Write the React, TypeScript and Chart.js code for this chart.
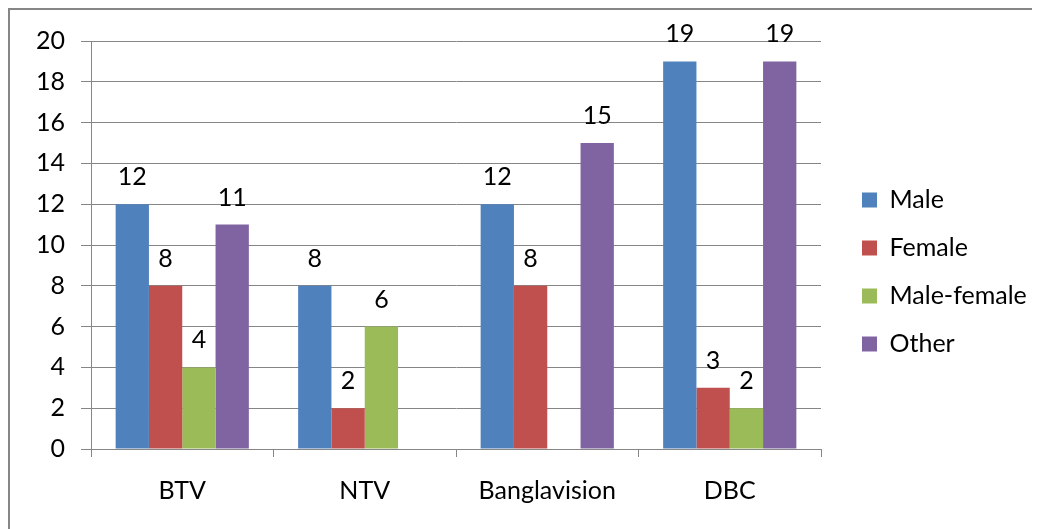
import React, { useEffect, useRef } from "react";
import { Chart, registerables } from "chart.js";

Chart.register(...registerables);

const categories = ["BTV", "NTV", "Banglavision", "DBC"];
const maleValues = [12, 8, 12, 19];
const femaleValues = [8, 2, 8, 3];
const maleFemaleValues = [4, 6, null, 2];
const otherValues = [11, null, 15, 19];
const yTicks = [0, 2, 4, 6, 8, 10, 12, 14, 16, 18, 20];

const FONT = "Lato, 'Open Sans', sans-serif";
const FS = 25;

const dataLabelPlugin = {
  id: "dataLabels",
  afterDatasetsDraw(chart: any) {
    const ctx = chart.ctx;
    ctx.save();
    ctx.font = `${FS}px ${FONT}`;
    ctx.fillStyle = "#000";
    ctx.textAlign = "center";
    ctx.textBaseline = "middle";
    chart.data.datasets.forEach((ds: any, i: number) => {
      const meta = chart.getDatasetMeta(i);
      meta.data.forEach((bar: any, j: number) => {
        const v = ds.data[j];
        if (v === null || v === undefined) return;
        ctx.fillText(String(v), bar.x, bar.y - 27);
      });
    });
    ctx.restore();
  },
};

// fix legend width / placement to mimic the reference layout
const legendPlacePlugin = {
  id: "legendPlace",
  afterInit(chart: any) {
    const lg = chart.legend;
    if (!lg) return;
    const orig = lg.fit.bind(lg);
    lg.fit = function () {
      orig();
      this.width = 219;
    };
  },
  afterLayout(chart: any) {
    const lg = chart.legend;
    if (!lg) return;
    const shift = 829 - lg.left;
    lg.left += shift;
    lg.right += shift;
  },
};

export default function App() {
  const ref = useRef<HTMLCanvasElement>(null);
  useEffect(() => {
    if (!ref.current) return;
    const chart = new Chart(ref.current, {
      type: "bar",
      data: {
        labels: categories,
        datasets: [
          { label: "Male", data: maleValues, backgroundColor: "#4F81BD" },
          { label: "Female", data: femaleValues, backgroundColor: "#C0504D" },
          { label: "Male-female", data: maleFemaleValues, backgroundColor: "#9BBB59" },
          { label: "Other", data: otherValues, backgroundColor: "#8064A2" },
        ],
      },
      options: {
        animation: false,
        responsive: false,
        maintainAspectRatio: false,
        layout: { padding: { top: 29, bottom: 24, left: 0, right: 0 } },
        datasets: {
          bar: { categoryPercentage: 0.73, barPercentage: 1 },
        },
        plugins: {
          tooltip: { enabled: false },
          legend: {
            position: "right",
            labels: {
              boxWidth: 15,
              boxHeight: 15,
              padding: 23,
              color: "#000",
              font: { family: FONT, size: FS },
            },
          },
        },
        scales: {
          x: {
            grid: {
              offset: true,
              drawOnChartArea: false,
              tickLength: 8,
              color: "#868686",
            },
            border: { color: "#868686" },
            ticks: {
              color: "#000",
              padding: 19,
              font: { family: FONT, size: FS },
            },
            afterFit(scale: any) {
              scale.height = 56;
            },
          },
          y: {
            min: 0,
            max: 20,
            afterBuildTicks(scale: any) {
              scale.ticks = yTicks.map((v) => ({ value: v }));
            },
            grid: { color: "#868686", tickLength: 10 },
            border: { color: "#868686" },
            ticks: {
              color: "#000",
              padding: 16,
              font: { family: FONT, size: FS },
            },
            afterFit(scale: any) {
              scale.width = 81;
            },
          },
        },
      },
      plugins: [dataLabelPlugin, legendPlacePlugin],
    });
    return () => chart.destroy();
  }, []);

  return (
    <div
      style={{
        width: 1030,
        height: 519,
        borderLeft: "2px solid #868686",
        borderTop: "2px solid #868686",
        overflow: "hidden",
      }}
    >
      <canvas ref={ref} width={1030} height={519} style={{ display: "block" }} />
    </div>
  );
}
